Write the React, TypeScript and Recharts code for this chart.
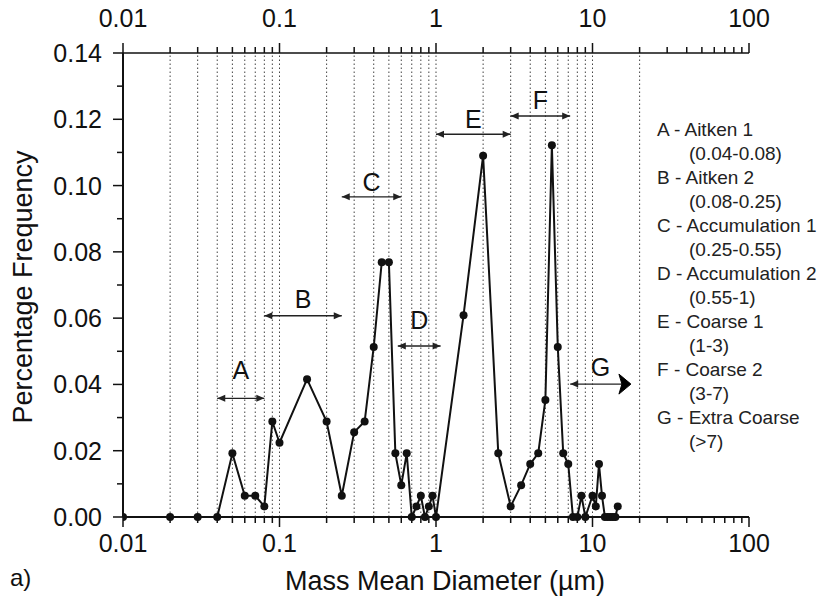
import React from "react";
import { LineChart, Line, XAxis, YAxis, ReferenceLine } from "recharts";

// particle size bins (µm) and percentage frequency
const diameters = [
  0.01, 0.02, 0.03, 0.04, 0.05, 0.06, 0.07, 0.08, 0.09, 0.1, 0.15, 0.2, 0.25, 0.3, 0.35, 0.4, 0.45, 0.5,
  0.55, 0.6, 0.65, 0.7, 0.75, 0.8, 0.85, 0.9, 0.95, 1.0, 1.5, 2, 2.5, 3, 3.5, 4, 4.5, 5, 5.5, 6, 6.5, 7,
  7.5, 8, 8.5, 9, 10, 10.5, 11, 11.5, 12, 12.5, 13, 13.5, 14, 14.5,
];
const frequency = [
  0, 0, 0, 0, 0.0192, 0.0064, 0.0064, 0.0032, 0.0288, 0.0224, 0.0416, 0.0288, 0.0064, 0.0256, 0.0288, 0.0513, 0.0769, 0.0769,
  0.0192, 0.0096, 0.0192, 0, 0.0032, 0.0064, 0, 0.0032, 0.0064, 0, 0.0609, 0.109, 0.0192, 0.0032, 0.0096, 0.016, 0.0192, 0.0353, 0.1122, 0.0513, 0.0192, 0.016,
  0, 0, 0.0064, 0, 0.0064, 0.0032, 0.016, 0.0064, 0, 0, 0, 0, 0, 0.0032,
];

const xMajorTicks = [0.01, 0.1, 1, 10, 100];
const xDecades = [0.01, 0.1, 1, 10];
const xMinorMantissas = [2, 3, 4, 5, 6, 7, 8, 9];
const yTicks = [0, 0.01, 0.02, 0.03, 0.04, 0.05, 0.06, 0.07, 0.08, 0.09, 0.1, 0.11, 0.12, 0.13, 0.14];
const yMajorTicks = [0, 0.02, 0.04, 0.06, 0.08, 0.1, 0.12, 0.14];

// dotted vertical guides
const gridX = [
  0.02, 0.03, 0.04, 0.05, 0.06, 0.07, 0.08, 0.09, 0.1, 0.2, 0.3, 0.4, 0.5, 0.6, 0.7, 0.8, 0.9,
  1, 2, 3, 4, 5, 6, 7, 8, 9, 10, 20,
];

// size-range annotations: label, from, to, level (y value of arrow)
const rangeLabels = ["A", "B", "C", "D", "E", "F", "G"];
const rangeFrom = [0.04, 0.08, 0.25, 0.57, 1, 3, 7.2];
const rangeTo = [0.08, 0.25, 0.6, 1.07, 3, 7.2, 17.6];
const rangeLevel = [0.0358, 0.0607, 0.0966, 0.0516, 0.1155, 0.121, 0.0401];

const legendLines = [
  ["A - Aitken 1", "(0.04-0.08)"],
  ["B - Aitken 2", "(0.08-0.25)"],
  ["C - Accumulation 1", "(0.25-0.55)"],
  ["D - Accumulation 2", "(0.55-1)"],
  ["E - Coarse 1", "(1-3)"],
  ["F - Coarse 2", "(3-7)"],
  ["G - Extra Coarse", "(>7)"],
];

const labelGap: Record<string, number> = { A: 28, B: 17, C: 15, D: 26, E: 15, F: 16, G: 17 };

const data = diameters.map((d, i) => ({ d, pf: frequency[i] }));
const xTicks = [
  ...xMajorTicks,
  ...xDecades.flatMap((dec) => xMinorMantissas.map((m) => +(dec * m).toPrecision(6))),
].sort((a, b) => a - b);

const FONT = "'Liberation Sans', Arial, sans-serif";
const INK = "#111";
const TICK_FONT = 25;

const isMajorX = (v: number) => xMajorTicks.some((m) => Math.abs(Math.log10(v) - Math.log10(m)) < 1e-6);
const isMajorY = (v: number) => yMajorTicks.some((m) => Math.abs(v - m) < 1e-9);

const BottomTick = ({ x, y, payload }: any) => {
  const major = isMajorX(payload.value);
  return (
    <g>
      <line x1={x} x2={x} y1={y} y2={y + (major ? 10 : 6)} stroke={INK} strokeWidth={1.5} />
      {major && (
        <text x={x} y={y + 35} textAnchor="middle" fontSize={TICK_FONT} fill={INK} fontFamily={FONT}>
          {String(payload.value)}
        </text>
      )}
    </g>
  );
};

const TopTick = ({ x, y, payload }: any) => {
  const major = isMajorX(payload.value);
  return (
    <g>
      <line x1={x} x2={x} y1={y} y2={y - (major ? 10 : 6)} stroke={INK} strokeWidth={1.5} />
      {major && (
        <text x={x} y={y - 26} textAnchor="middle" fontSize={TICK_FONT} fill={INK} fontFamily={FONT}>
          {String(payload.value)}
        </text>
      )}
    </g>
  );
};

const LeftTick = ({ x, y, payload }: any) => {
  const major = isMajorY(payload.value);
  return (
    <g>
      <line x1={x} x2={x - (major ? 10 : 6)} y1={y} y2={y} stroke={INK} strokeWidth={1.5} />
      {major && (
        <text x={x - 21} y={y} dy="0.36em" textAnchor="end" fontSize={TICK_FONT} fill={INK} fontFamily={FONT}>
          {payload.value.toFixed(2)}
        </text>
      )}
    </g>
  );
};

const RangeArrow = ({ x1, x2, y1, label }: any) => {
  const xa = Math.min(x1, x2);
  const xb = Math.max(x1, x2);
  const y = y1;
  const big = label === "G";
  return (
    <g>
      <line x1={xa} x2={big ? xb - 6 : xb} y1={y} y2={y} stroke="#222" strokeWidth={1.4} />
      <polygon points={`${xa},${y} ${xa + 8},${y - 3.5} ${xa + 8},${y + 3.5}`} fill="#222" />
      {big ? (
        <polygon points={`${xb},${y} ${xb - 12},${y - 10} ${xb - 9},${y} ${xb - 12},${y + 10}`} fill="#000" stroke="#000" strokeWidth={1} />
      ) : (
        <polygon points={`${xb},${y} ${xb - 8},${y - 3.5} ${xb - 8},${y + 3.5}`} fill="#222" />
      )}
      <text x={(xa + xb) / 2} y={y - labelGap[label]} dy="0.36em" textAnchor="middle" fontSize={25} fill={INK} fontFamily={FONT}>
        {label}
      </text>
    </g>
  );
};

export default function App() {
  return (
    <div style={{ position: "absolute", left: 0, top: 0, width: 822, height: 600, background: "#fff", fontFamily: FONT }}>
      <LineChart width={822} height={600} data={data} margin={{ top: 13, right: 73, bottom: 43, left: 63 }}>
        <XAxis
          dataKey="d"
          type="number"
          scale="log"
          domain={[0.01, 100]}
          ticks={xTicks}
          interval={0}
          allowDataOverflow
          height={40}
          tickSize={0}
          tickMargin={0}
          tick={<BottomTick />}
          axisLine={{ stroke: INK, strokeWidth: 2 }}
        />
        <XAxis
          xAxisId="top"
          orientation="top"
          dataKey="d"
          type="number"
          scale="log"
          domain={[0.01, 100]}
          ticks={xTicks}
          interval={0}
          allowDataOverflow
          height={40}
          tickSize={0}
          tickMargin={0}
          tick={<TopTick />}
          axisLine={{ stroke: INK, strokeWidth: 1.5 }}
        />
        <YAxis
          type="number"
          domain={[0, 0.14]}
          ticks={yTicks}
          interval={0}
          width={60}
          tickSize={0}
          tickMargin={0}
          tick={<LeftTick />}
          axisLine={{ stroke: INK, strokeWidth: 2 }}
        />
        {gridX.map((g) => (
          <ReferenceLine key={`g-${g}`} x={g} stroke="#444" strokeWidth={1} strokeDasharray="1.5 2.5" />
        ))}
        {rangeLabels.map((lab, i) => (
          <ReferenceLine
            key={`r-${lab}`}
            segment={[
              { x: rangeFrom[i], y: rangeLevel[i] },
              { x: rangeTo[i], y: rangeLevel[i] },
            ]}
            ifOverflow="visible"
            shape={(p: any) => <RangeArrow {...p} label={lab} />}
          />
        ))}
        <Line
          type="linear"
          dataKey="pf"
          stroke={INK}
          strokeWidth={2}
          dot={{ r: 4, fill: INK, stroke: INK, strokeWidth: 0 }}
          isAnimationActive={false}
        />
      </LineChart>

      {legendLines.map(([main, sub], i) => (
        <React.Fragment key={main}>
          <div style={{ position: "absolute", left: 657, top: 118 + i * 48, fontSize: 19, color: "#222", lineHeight: "24px", whiteSpace: "nowrap" }}>
            {main}
          </div>
          <div style={{ position: "absolute", left: 689, top: 142 + i * 48, fontSize: 19, color: "#222", lineHeight: "24px", whiteSpace: "nowrap" }}>
            {sub}
          </div>
        </React.Fragment>
      ))}

      <div
        style={{
          position: "absolute",
          left: 23,
          top: 287,
          transform: "translate(-50%, -50%) rotate(-90deg)",
          fontSize: 27,
          color: INK,
          whiteSpace: "nowrap",
        }}
      >
        Percentage Frequency
      </div>
      <div
        style={{
          position: "absolute",
          left: 445,
          top: 581,
          transform: "translate(-50%, -50%)",
          fontSize: 27,
          color: INK,
          whiteSpace: "nowrap",
        }}
      >
        Mass Mean Diameter (µm)
      </div>
      <div style={{ position: "absolute", left: 10, top: 578, transform: "translateY(-50%)", fontSize: 24, color: INK }}>a)</div>
    </div>
  );
}
